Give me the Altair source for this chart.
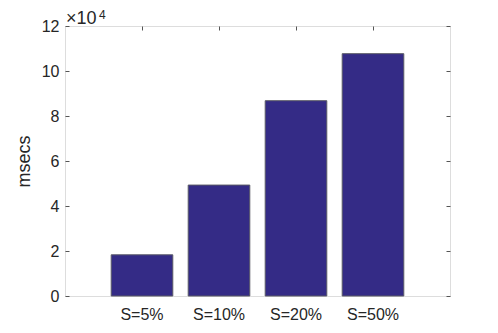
import altair as alt
import pandas as pd

categories = ["S=5%", "S=10%", "S=20%", "S=50%"]
msecs = [18300, 49300, 86800, 107700]
y_ticks = [0, 20000, 40000, 60000, 80000, 100000, 120000]
exp_base = "×10"
exp_power = "4"

df = pd.DataFrame({"cat": categories, "msecs": msecs})

FONT = "Liberation Sans"
TXT = "#262626"
AX = "#555555"

xscale = alt.Scale(domain=categories, paddingInner=0.2, paddingOuter=0.6)
yscale = alt.Scale(domain=[0, 120000], nice=False, zero=True)

base = alt.Chart(df)

bars = base.mark_bar(color="#342B86", stroke="#5a5a66", strokeWidth=1).encode(
    x=alt.X("cat:N", scale=xscale, sort=categories,
            axis=alt.Axis(orient="bottom", title=None, labelAngle=0, ticks=False,
                          domain=False, labelPadding=10, labelFontSize=16,
                          labelColor=TXT, labelFont=FONT)),
    y=alt.Y("msecs:Q", scale=yscale,
            axis=alt.Axis(orient="left", title="msecs", values=y_ticks,
                          labelExpr="datum.value / 10000", ticks=False, domain=False,
                          grid=False, labelPadding=6, labelFontSize=16, labelColor=TXT,
                          labelFont=FONT, titleFontSize=18, titleFont=FONT,
                          titleFontWeight="normal", titleColor=TXT, titlePadding=8)),
)

ticks_a = base.mark_bar(opacity=0).encode(
    x=alt.X("cat:N", scale=xscale, sort=categories,
            axis=alt.Axis(orient="top", title=None, labels=False, domain=False,
                          ticks=True, tickSize=4, offset=-4, tickColor=AX)),
    y=alt.Y("msecs:Q", scale=yscale,
            axis=alt.Axis(orient="right", title=None, labels=False, domain=False,
                          grid=False, values=y_ticks,
                          ticks=True, tickSize=4, offset=-4, tickColor=AX)),
)

ticks_b = base.mark_bar(opacity=0).encode(
    x=alt.X("cat:N", scale=xscale, sort=categories, axis=None),
    y=alt.Y("msecs:Q", scale=yscale,
            axis=alt.Axis(orient="left", title=None, labels=False, domain=False,
                          grid=False, values=y_ticks,
                          ticks=True, tickSize=4, offset=-4, tickColor=AX)),
)

exp_text = alt.Chart().mark_text(
    align="left", baseline="alphabetic", fontSize=18, font=FONT, color=TXT
).encode(text=alt.datum(exp_base), x=alt.value(1), y=alt.value(-2),
         size=alt.value(18))

exp_sup = alt.Chart().mark_text(
    align="left", baseline="alphabetic", fontSize=12, font=FONT, color=TXT
).encode(text=alt.datum(exp_power), x=alt.value(34), y=alt.value(-7),
         size=alt.value(12))

chart = alt.layer(bars, ticks_a, ticks_b, exp_text, exp_sup).resolve_axis(
    x="independent", y="independent"
).properties(
    width=385,
    height=270,
    autosize=alt.AutoSizeParams(type="none"),
    padding={"left": 57, "top": 18, "right": 40, "bottom": 29},
).configure_view(
    stroke=AX, strokeWidth=1
).configure(background="white")

chart.save("out.html", embed_options={"renderer": "svg", "actions": False})
